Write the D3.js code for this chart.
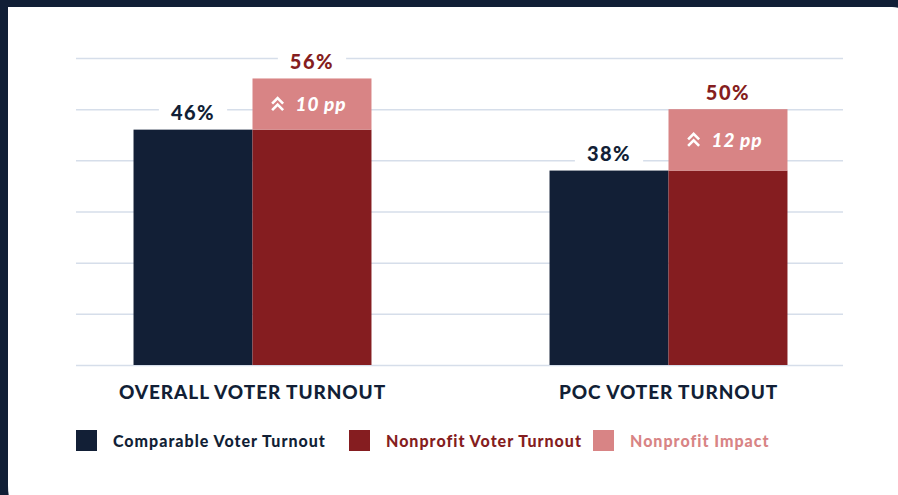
<!DOCTYPE html>
<html>
<head>
<meta charset="utf-8">
<script src="https://cdn.jsdelivr.net/npm/d3@7"></script>
<style>
html,body{margin:0;padding:0;background:#111f36;}
svg{display:block;}
</style>
</head>
<body>
<svg id="chart" width="898" height="495"></svg>
<script>
const categories = ["OVERALL VOTER TURNOUT", "POC VOTER TURNOUT"];
const comparable = [46, 38];
const nonprofit = [56, 50];
const impactLabels = ["10 pp", "12 pp"];
const yTicks = [0, 10, 20, 30, 40, 50, 60];
const legendLabels = ["Comparable Voter Turnout", "Nonprofit Voter Turnout", "Nonprofit Impact"];

const navy = "#121f36", red = "#851d20", pink = "#d88485", grid = "#d6deea";
const FONT = "Lato, 'Open Sans', sans-serif";

const svg = d3.select("#chart");
// card
const L = 8, T = 7, R = 906, B = 520, rTR = 14, rBL = 34;
svg.append("path")
  .attr("d", `M${L},${T} L${R - rTR},${T} Q${R},${T} ${R},${T + rTR} L${R},${B} L${L + rBL},${B} Q${L},${B} ${L},${B - rBL} Z`)
  .attr("fill", "#ffffff");

const x0 = d3.scaleBand().domain(categories).range([44.5, 876.5]).paddingInner(0.428).paddingOuter(0.214);
const x1 = d3.scaleBand().domain(["comp", "np"]).range([0, x0.bandwidth()]);
const y = d3.scaleLinear().domain([0, 60]).range([365, 58]);

// grid
const gridG = svg.append("g").attr("transform", "translate(76,0)")
  .call(d3.axisLeft(y).tickValues(yTicks).tickSize(-767).tickFormat(""));
gridG.select(".domain").remove();
gridG.selectAll(".tick line").attr("stroke", grid).attr("stroke-width", 1.5);

const groups = svg.selectAll(".grp").data(categories).enter().append("g")
  .attr("transform", d => `translate(${x0(d)},0)`);

// comparable bars
groups.append("rect")
  .attr("x", x1("comp")).attr("width", x1.bandwidth())
  .attr("y", (d, i) => y(comparable[i])).attr("height", (d, i) => y(0) - y(comparable[i]))
  .attr("fill", navy);
// nonprofit base (equal to comparable)
groups.append("rect")
  .attr("x", x1("np")).attr("width", x1.bandwidth())
  .attr("y", (d, i) => y(comparable[i])).attr("height", (d, i) => y(0) - y(comparable[i]))
  .attr("fill", red);
// impact
groups.append("rect")
  .attr("x", x1("np")).attr("width", x1.bandwidth())
  .attr("y", (d, i) => y(nonprofit[i])).attr("height", (d, i) => y(comparable[i]) - y(nonprofit[i]))
  .attr("fill", pink);

// value labels with white backgrounds
function valueLabel(g, xc, yv, text, color) {
  const t = g.append("text")
    .attr("x", xc).attr("y", y(yv) - 9.5)
    .attr("text-anchor", "middle")
    .attr("font-family", FONT).attr("font-weight", 900).attr("font-size", 20)
    .attr("letter-spacing", 1.5)
    .attr("fill", color).text(text);
  const bb = t.node().getBBox();
  g.insert("rect", "text").attr("x", bb.x - 12).attr("y", bb.y).attr("width", bb.width + 24).attr("height", bb.height)
    .attr("fill", "#fff");
}
groups.each(function (d, i) {
  const g = d3.select(this);
  valueLabel(g, x1("comp") + x1.bandwidth() / 2, comparable[i], comparable[i] + "%", navy);
  valueLabel(g, x1("np") + x1.bandwidth() / 2, nonprofit[i], nonprofit[i] + "%", red);
  // impact label
  const cx = x1("np") + x1.bandwidth() / 2;
  const cy = (y(comparable[i]) + y(nonprofit[i])) / 2;
  const lab = g.append("g");
  const t = lab.append("text")
    .attr("x", cx + 9).attr("y", cy + 7)
    .attr("text-anchor", "middle")
    .attr("font-family", FONT).attr("font-weight", 900).attr("font-style", "italic").attr("font-size", 19)
    .attr("letter-spacing", 0.8)
    .attr("fill", "#fff").text(impactLabels[i]);
  const w = t.node().getComputedTextLength();
  const ax = cx + 9 - w / 2 - 18;
  [-3.5, 3].forEach(dy => {
    lab.append("path")
      .attr("d", `M${ax - 5.5},${cy + dy + 3} L${ax},${cy + dy - 2.5} L${ax + 5.5},${cy + dy + 3}`)
      .attr("fill", "none").attr("stroke", "#fff").attr("stroke-width", 2.6);
  });
});

// category labels
groups.append("text")
  .attr("x", x0.bandwidth() / 2).attr("y", 399)
  .attr("text-anchor", "middle")
  .attr("font-family", FONT).attr("font-weight", 900).attr("font-size", 19)
  .attr("letter-spacing", 0.9)
  .attr("fill", navy).text(d => d);

// legend
const legendColors = [navy, red, pink];
const legendX = [76, 349, 593];
const lg = svg.selectAll(".lg").data(legendLabels).enter().append("g")
  .attr("transform", (d, i) => `translate(${legendX[i]},430)`);
lg.append("rect").attr("width", 21).attr("height", 21).attr("fill", (d, i) => legendColors[i]);
lg.append("text").attr("x", 37).attr("y", 17)
  .attr("font-family", FONT).attr("font-weight", 900).attr("font-size", 16)
  .attr("letter-spacing", 1)
  .attr("fill", (d, i) => legendColors[i]).text(d => d);
</script>
</body>
</html>
